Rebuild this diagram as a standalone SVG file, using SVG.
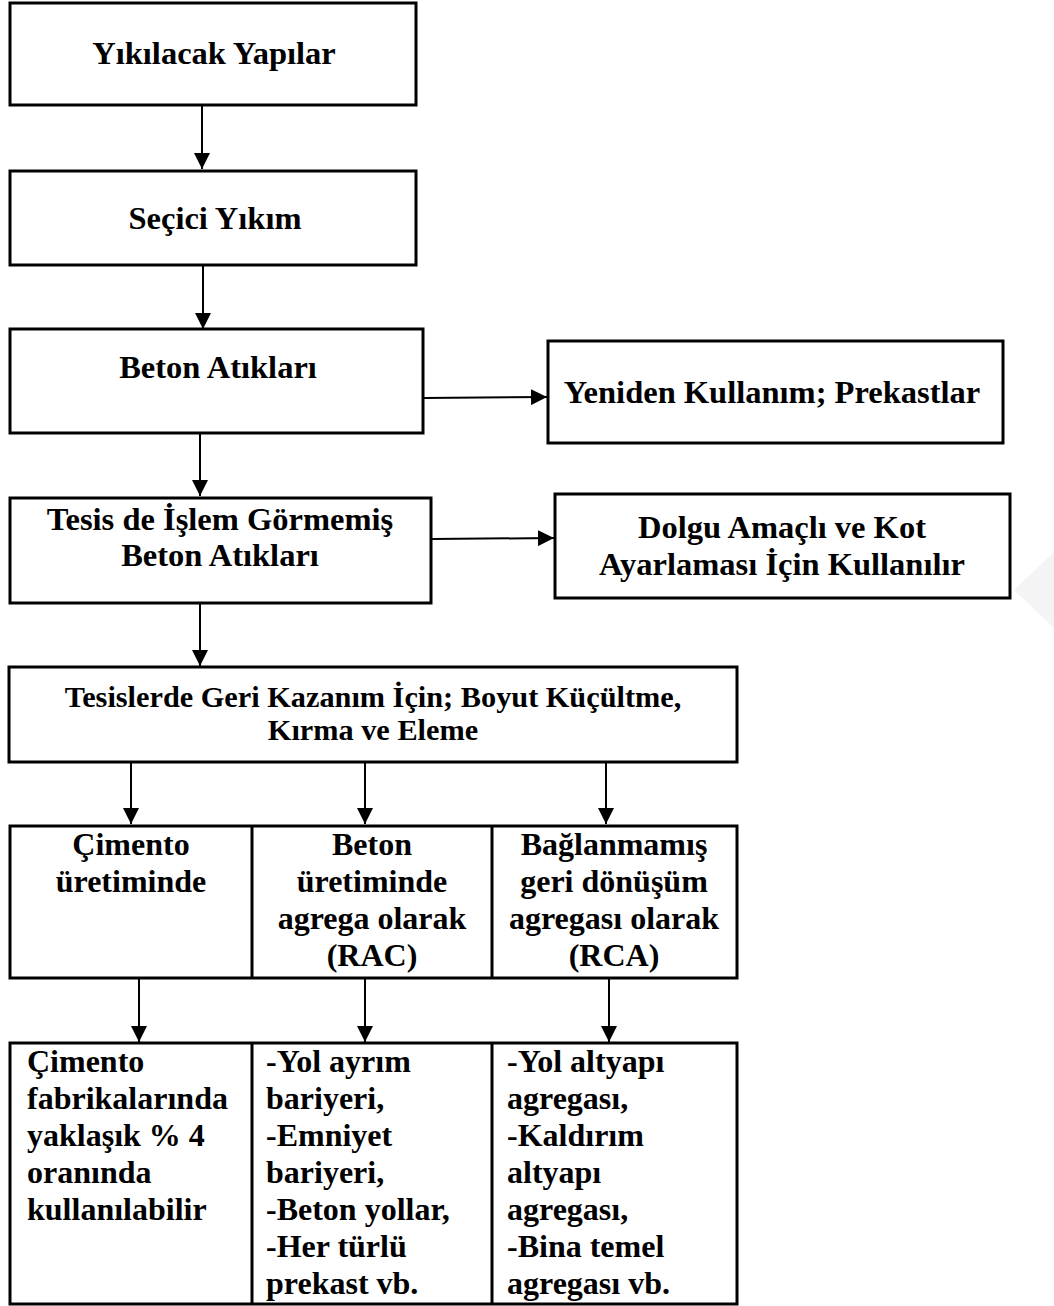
<svg xmlns="http://www.w3.org/2000/svg" width="1054" height="1306" viewBox="0 0 1054 1306">
  <defs>
    <style>
      .box { fill: #ffffff; stroke: #000000; stroke-width: 3; }
      .cell { fill: none; stroke: #000000; stroke-width: 3; }
      .edge { stroke: #000000; stroke-width: 2; fill: none; marker-end: url(#arrow); }
      text { font-family: "Liberation Serif", "Times New Roman", serif; font-weight: bold; fill: #000000; }
      .t32 { font-size: 32.5px; text-anchor: middle; }
      .t30 { font-size: 30.3px; text-anchor: middle; }
      .cellc { font-size: 32px; text-anchor: middle; }
      .celll { font-size: 32px; text-anchor: start; }
    </style>
    <marker id="arrow" viewBox="0 0 16 16" refX="16" refY="8" markerWidth="16" markerHeight="16" markerUnits="userSpaceOnUse" orient="auto">
      <path d="M0,0 L16,8 L0,16 Z" fill="#000000"/>
    </marker>
  </defs>

  <rect width="1054" height="1306" fill="#ffffff"/>

  <!-- faint mark at the right margin -->
  <polygon points="1054,552 1014,590 1054,628" fill="#f4f4f4"/>

  <!-- connectors -->
  <g id="connectors">
    <line class="edge" x1="202" y1="106" x2="202" y2="169"/>
    <line class="edge" x1="203" y1="266" x2="203" y2="329"/>
    <line class="edge" x1="424" y1="398" x2="547" y2="397"/>
    <line class="edge" x1="200" y1="434" x2="200" y2="496"/>
    <line class="edge" x1="432" y1="539" x2="554" y2="538"/>
    <line class="edge" x1="200" y1="604" x2="200" y2="666"/>
    <line class="edge" x1="131" y1="763" x2="131" y2="824"/>
    <line class="edge" x1="365" y1="763" x2="365" y2="824"/>
    <line class="edge" x1="606" y1="763" x2="606" y2="824"/>
    <line class="edge" x1="139" y1="979" x2="139" y2="1042"/>
    <line class="edge" x1="365" y1="979" x2="365" y2="1042"/>
    <line class="edge" x1="609" y1="979" x2="609" y2="1042"/>
  </g>

  <g id="yikilacak-yapilar">
    <rect class="box" x="10" y="3" width="406" height="102"/>
    <text class="t32" x="214" y="64">Yıkılacak Yapılar</text>
  </g>

  <g id="secici-yikim">
    <rect class="box" x="10" y="171" width="406" height="94"/>
    <text class="t32" x="215" y="229">Seçici Yıkım</text>
  </g>

  <g id="beton-atiklari">
    <rect class="box" x="10" y="329" width="413" height="104"/>
    <text class="t32" x="218" y="378">Beton Atıkları</text>
  </g>

  <g id="yeniden-kullanim">
    <rect class="box" x="548" y="341" width="455" height="102"/>
    <text class="t32" x="772" y="403">Yeniden Kullanım; Prekastlar</text>
  </g>

  <g id="islem-gormemis">
    <rect class="box" x="10" y="498" width="421" height="105"/>
    <text class="t32" x="220" y="530">Tesis de İşlem Görmemiş</text>
    <text class="t32" x="220" y="566">Beton Atıkları</text>
  </g>

  <g id="dolgu-amacli">
    <rect class="box" x="555" y="494" width="455" height="104"/>
    <text class="t32" x="782" y="538">Dolgu Amaçlı ve Kot</text>
    <text class="t32" x="782" y="575">Ayarlaması İçin Kullanılır</text>
  </g>

  <g id="geri-kazanim">
    <rect class="box" x="9" y="667" width="728" height="95"/>
    <text class="t30" x="373" y="707">Tesislerde Geri Kazanım İçin; Boyut Küçültme,</text>
    <text class="t30" x="373" y="740">Kırma ve Eleme</text>
  </g>

  <!-- first table row: kind of reuse -->
  <g id="kullanim-alanlari">
    <rect class="cell" x="10" y="826" width="727" height="152"/>
    <line class="cell" x1="252" y1="826" x2="252" y2="978"/>
    <line class="cell" x1="492" y1="826" x2="492" y2="978"/>
  </g>
  <g id="cimento-uretimi">
    <text class="cellc" x="131" y="855">Çimento</text>
    <text class="cellc" x="131" y="892">üretiminde</text>
  </g>
  <g id="beton-uretimi">
    <text class="cellc" x="372" y="855">Beton</text>
    <text class="cellc" x="372" y="892">üretiminde</text>
    <text class="cellc" x="372" y="929">agrega olarak</text>
    <text class="cellc" x="372" y="966">(RAC)</text>
  </g>
  <g id="baglanmamis-agrega">
    <text class="cellc" x="614" y="855">Bağlanmamış</text>
    <text class="cellc" x="614" y="892">geri dönüşüm</text>
    <text class="cellc" x="614" y="929">agregası olarak</text>
    <text class="cellc" x="614" y="966">(RCA)</text>
  </g>

  <!-- second table row: applications -->
  <g id="uygulamalar">
    <rect class="cell" x="10" y="1043" width="727" height="261"/>
    <line class="cell" x1="252" y1="1043" x2="252" y2="1304"/>
    <line class="cell" x1="492" y1="1043" x2="492" y2="1304"/>
  </g>
  <g id="cimento-fabrikalari">
    <text class="celll" x="27" y="1072">Çimento</text>
    <text class="celll" x="27" y="1109">fabrikalarında</text>
    <text class="celll" x="27" y="1146">yaklaşık % 4</text>
    <text class="celll" x="27" y="1183">oranında</text>
    <text class="celll" x="27" y="1220">kullanılabilir</text>
  </g>
  <g id="rac-uygulamalari">
    <text class="celll" x="266" y="1072">-Yol ayrım</text>
    <text class="celll" x="266" y="1109">bariyeri,</text>
    <text class="celll" x="266" y="1146">-Emniyet</text>
    <text class="celll" x="266" y="1183">bariyeri,</text>
    <text class="celll" x="266" y="1220">-Beton yollar,</text>
    <text class="celll" x="266" y="1257">-Her türlü</text>
    <text class="celll" x="266" y="1294">prekast vb.</text>
  </g>
  <g id="rca-uygulamalari">
    <text class="celll" x="507" y="1072">-Yol altyapı</text>
    <text class="celll" x="507" y="1109">agregası,</text>
    <text class="celll" x="507" y="1146">-Kaldırım</text>
    <text class="celll" x="507" y="1183">altyapı</text>
    <text class="celll" x="507" y="1220">agregası,</text>
    <text class="celll" x="507" y="1257">-Bina temel</text>
    <text class="celll" x="507" y="1294">agregası vb.</text>
  </g>
</svg>
